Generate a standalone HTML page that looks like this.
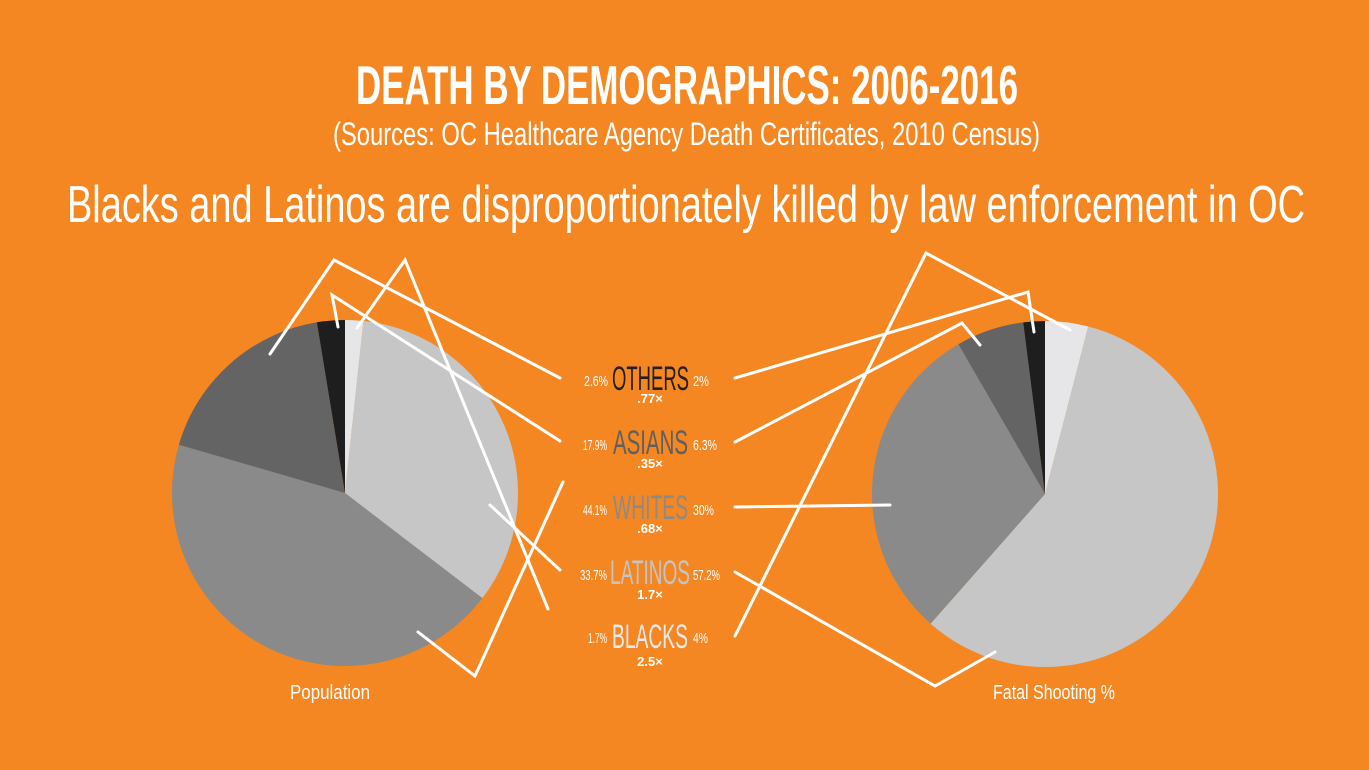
<!DOCTYPE html>
<html><head><meta charset="utf-8"><style>
html,body{margin:0;padding:0;background:#f58722;}
svg{display:block;font-family:"Liberation Sans",sans-serif;}
</style></head><body>
<svg id="s" width="1369" height="770" viewBox="0 0 1369 770">
<rect width="1369" height="770" fill="#f58722"/>
<text x="356" y="104" fill="#fff" font-size="55" font-weight="bold" textLength="662" lengthAdjust="spacingAndGlyphs">DEATH BY DEMOGRAPHICS: 2006-2016</text>
<text x="333" y="145" fill="#fff" font-size="32" textLength="707" lengthAdjust="spacingAndGlyphs">(Sources: OC Healthcare Agency Death Certificates, 2010 Census)</text>
<text x="67" y="222" fill="#fff" font-size="52" textLength="1238" lengthAdjust="spacingAndGlyphs">Blacks and Latinos are disproportionately killed by law enforcement in OC</text>
<g id="pies"></g>
<g stroke="#fff" stroke-width="3" fill="none" stroke-linecap="round" stroke-linejoin="miter">
<polyline points="270,354 334,260 560,378"/>
<polyline points="338,327 332,295 560,441"/>
<polyline points="357,328 405,260 548,609"/>
<polyline points="490,505 560,570"/>
<polyline points="563,482 475,676 418,632"/>
<polyline points="735,378 1028,292 1034,332"/>
<polyline points="735,442 962,323 980,345"/>
<polyline points="735,507 890,505"/>
<polyline points="735,572 935,686 995,652"/>
<polyline points="735,636 926,253 1070,330"/>
</g>
<g>
<text x="608" y="386" fill="#fff" font-size="15" text-anchor="end" textLength="24" lengthAdjust="spacingAndGlyphs">2.6%</text>
<text x="612" y="390" fill="#231f20" font-size="34" textLength="77" lengthAdjust="spacingAndGlyphs">OTHERS</text>
<text x="693" y="386" fill="#fff" font-size="15" textLength="16" lengthAdjust="spacingAndGlyphs">2%</text>
<text x="650" y="403" fill="#fff" font-size="13" font-weight="bold" text-anchor="middle">.77×</text>

<text x="607" y="450" fill="#fff" font-size="15" text-anchor="end" textLength="24" lengthAdjust="spacingAndGlyphs">17.9%</text>
<text x="613" y="454" fill="#5f5f5f" font-size="34" textLength="75" lengthAdjust="spacingAndGlyphs">ASIANS</text>
<text x="693" y="450" fill="#fff" font-size="15" textLength="24" lengthAdjust="spacingAndGlyphs">6.3%</text>
<text x="650" y="468" fill="#fff" font-size="13" font-weight="bold" text-anchor="middle">.35×</text>

<text x="607" y="515" fill="#fff" font-size="15" text-anchor="end" textLength="24" lengthAdjust="spacingAndGlyphs">44.1%</text>
<text x="613" y="519" fill="#8a8a8a" font-size="34" textLength="75" lengthAdjust="spacingAndGlyphs">WHITES</text>
<text x="693" y="515" fill="#fff" font-size="15" textLength="21" lengthAdjust="spacingAndGlyphs">30%</text>
<text x="650" y="533" fill="#fff" font-size="13" font-weight="bold" text-anchor="middle">.68×</text>

<text x="607" y="580" fill="#fff" font-size="15" text-anchor="end" textLength="27" lengthAdjust="spacingAndGlyphs">33.7%</text>
<text x="610" y="584" fill="#c4c4c4" font-size="34" textLength="80" lengthAdjust="spacingAndGlyphs">LATINOS</text>
<text x="693" y="580" fill="#fff" font-size="15" textLength="27" lengthAdjust="spacingAndGlyphs">57.2%</text>
<text x="650" y="599" fill="#fff" font-size="13" font-weight="bold" text-anchor="middle">1.7×</text>

<text x="607" y="643" fill="#fff" font-size="15" text-anchor="end" textLength="19" lengthAdjust="spacingAndGlyphs">1.7%</text>
<text x="612" y="648" fill="#e8e8e8" font-size="34" textLength="76" lengthAdjust="spacingAndGlyphs">BLACKS</text>
<text x="693" y="643" fill="#fff" font-size="15" textLength="15" lengthAdjust="spacingAndGlyphs">4%</text>
<text x="650" y="666" fill="#fff" font-size="13" font-weight="bold" text-anchor="middle">2.5×</text>

<text x="290" y="699" fill="#fff" font-size="20" textLength="80" lengthAdjust="spacingAndGlyphs">Population</text>
<text x="993" y="699" fill="#fff" font-size="20" textLength="122" lengthAdjust="spacingAndGlyphs">Fatal Shooting %</text>
</g>
</svg>
<script>
(function(){
var cols=["#e6e6e8","#c6c6c6","#8a8a8a","#646464","#1e1e1e"];
function pie(cx,cy,r,vals){
 var tot=vals.reduce(function(a,b){return a+b},0),a=0,out="";
 vals.forEach(function(v,i){
  var a0=a/tot*2*Math.PI;a+=v;var a1=a/tot*2*Math.PI;
  var x0=cx+r*Math.sin(a0),y0=cy-r*Math.cos(a0),x1=cx+r*Math.sin(a1),y1=cy-r*Math.cos(a1);
  var lg=(a1-a0)>Math.PI?1:0;
  out+='<path d="M'+cx+','+cy+' L'+x0+','+y0+' A'+r+','+r+' 0 '+lg+' 1 '+x1+','+y1+' Z" fill="'+cols[i]+'"/>';
 });
 return out;
}
document.getElementById("pies").innerHTML=pie(345,493,173,[1.7,33.7,44.1,17.9,2.6])+pie(1045,494,173,[4,57.2,30,6.3,2]);
})();
</script>
</body></html>
